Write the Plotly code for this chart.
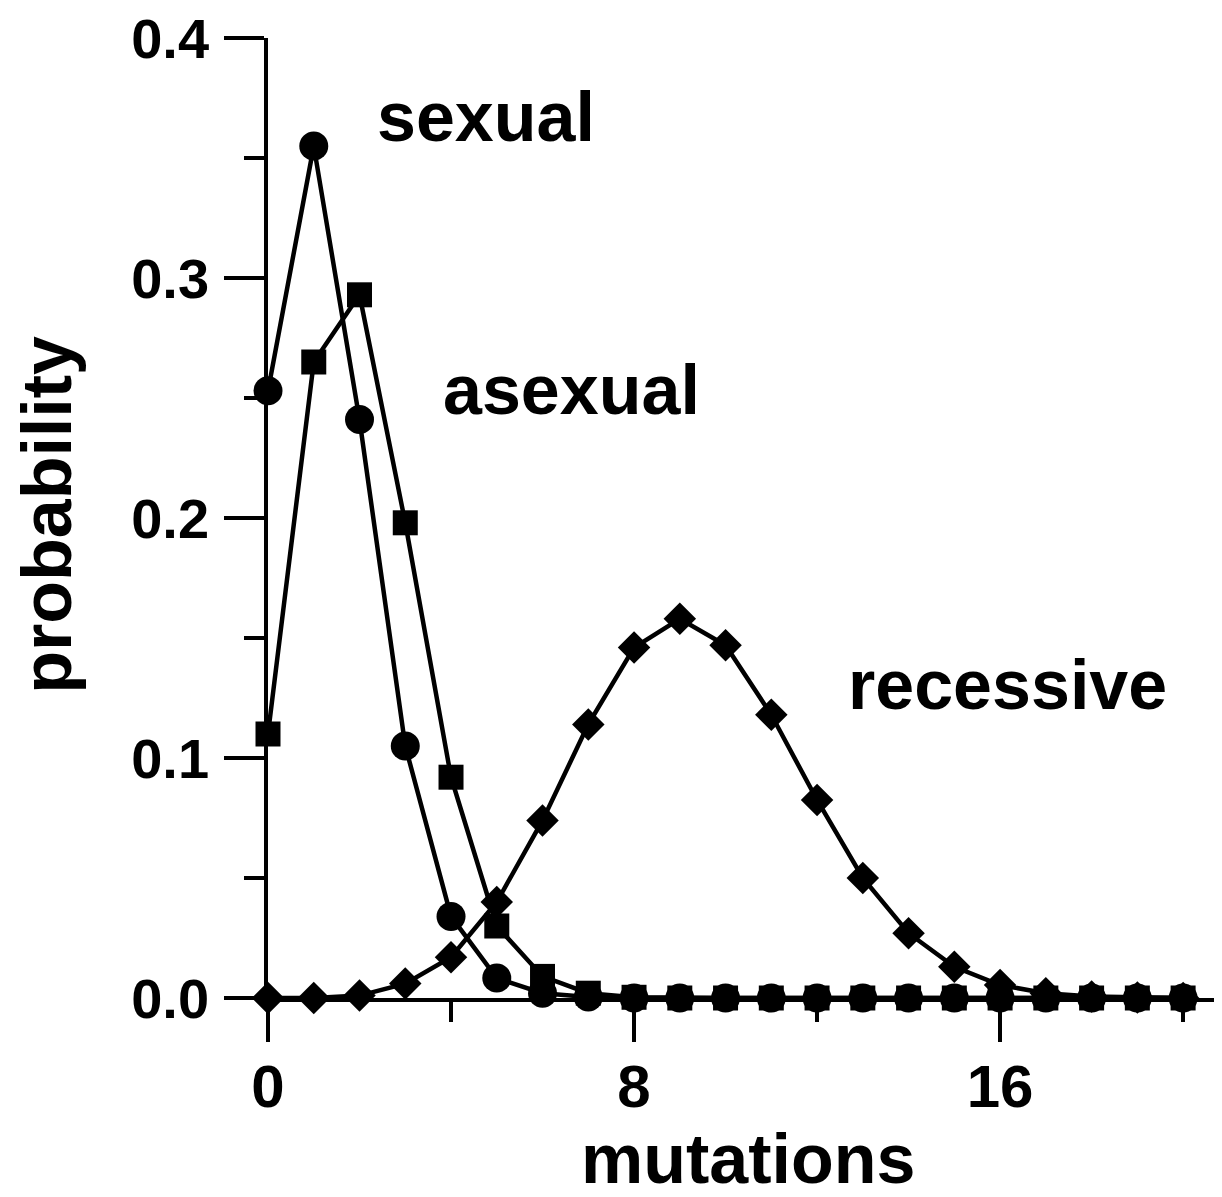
import plotly.graph_objects as go

mutations = list(range(0, 21))
sexual = [0.253, 0.355, 0.241, 0.105, 0.034, 0.0083, 0.002, 0.0004, 0, 0, 0, 0, 0, 0, 0, 0, 0, 0, 0, 0, 0]
asexual = [0.110, 0.265, 0.293, 0.198, 0.092, 0.030, 0.009, 0.002, 0.0003, 0, 0, 0, 0, 0, 0, 0, 0, 0, 0, 0, 0]
recessive = [0.0, 0.0, 0.001, 0.006, 0.017, 0.040, 0.074, 0.114, 0.146, 0.158, 0.147, 0.118, 0.0825,
             0.050, 0.027, 0.013, 0.0054, 0.002, 0.0006, 0.0002, 0.0]
x_ticks = [0, 8, 16]
y_ticks = [0.0, 0.1, 0.2, 0.3, 0.4]
y_ticklabels = ["0.0", "0.1", "0.2", "0.3", "0.4"]

FONT = "Liberation Sans"
LW = 4.5
AX = 3.5

fig = go.Figure()
fig.add_trace(go.Scatter(x=mutations, y=recessive, mode="lines+markers", cliponaxis=False,
                         line=dict(color="black", width=LW),
                         marker=dict(symbol="diamond", size=25, color="black")))
fig.add_trace(go.Scatter(x=mutations, y=asexual, mode="lines+markers", cliponaxis=False,
                         line=dict(color="black", width=LW),
                         marker=dict(symbol="square", size=25, color="black")))
fig.add_trace(go.Scatter(x=mutations, y=sexual, mode="lines+markers", cliponaxis=False,
                         line=dict(color="black", width=LW),
                         marker=dict(symbol="circle", size=29, color="black")))

fig.update_layout(
    width=1214, height=1189,
    margin=dict(l=260, r=0, t=30, b=199),
    plot_bgcolor="white", paper_bgcolor="white",
    showlegend=False,
    font=dict(family=FONT, color="black", size=60, weight="bold"),
)
fig.update_xaxes(
    range=[0, 20.85], showgrid=False, zeroline=False,
    showline=True, linecolor="black", linewidth=AX,
    tickmode="array", tickvals=x_ticks, ticktext=[str(v) for v in x_ticks],
    ticks="outside", ticklen=40, tickwidth=AX, tickcolor="black",
    ticklabelstandoff=-7, ticklabeloverflow="allow",
    tickfont=dict(family=FONT, size=60, weight="bold"),
    minor=dict(tickmode="array", tickvals=[4, 12, 20], ticks="outside", ticklen=20,
               tickwidth=AX, tickcolor="black", showgrid=False),
)
fig.update_yaxes(
    range=[0, 0.4], showgrid=False, zeroline=False,
    showline=True, linecolor="black", linewidth=AX,
    tickmode="array", tickvals=y_ticks, ticktext=y_ticklabels,
    ticks="outside", ticklen=40, tickwidth=AX, tickcolor="black",
    ticklabelstandoff=4, ticklabeloverflow="allow",
    tickfont=dict(family=FONT, size=56, weight="bold"),
    minor=dict(tickmode="array", tickvals=[0.05, 0.15, 0.25, 0.35], ticks="outside", ticklen=20,
               tickwidth=AX, tickcolor="black", showgrid=False),
)

def label(text, x, y, angle=0):
    fig.add_annotation(text=text, x=x, y=y, xref="paper", yref="paper",
                       showarrow=False, textangle=angle, xanchor="center", yanchor="middle",
                       font=dict(family=FONT, size=70, color="black", weight="bold"))

label("sexual", 0.228, 0.918)
label("asexual", 0.318, 0.633)
label("recessive", 0.775, 0.326)
label("mutations", 0.503, -0.168)
label("probability", -0.232, 0.503, angle=-90)

fig.write_html("out.html")
